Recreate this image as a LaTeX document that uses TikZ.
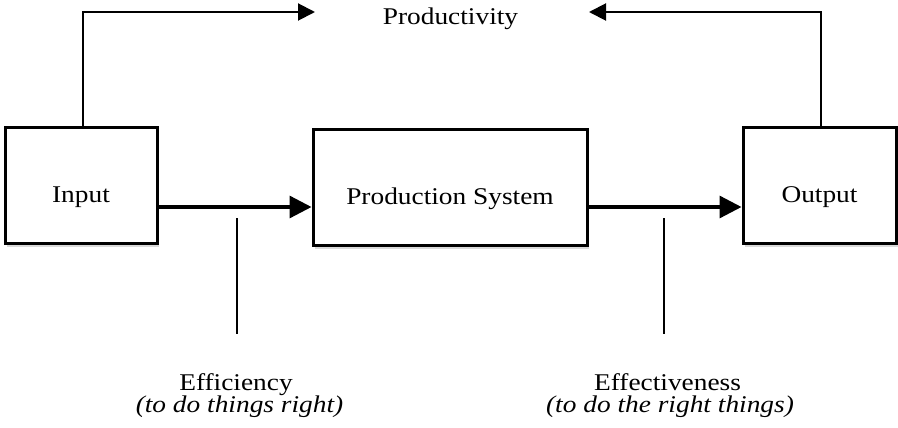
\documentclass[tikz,border=0pt]{standalone}
\usepackage{fontspec}
\setmainfont{Liberation Serif}[FakeStretch=1.14]
\usetikzlibrary{arrows.meta,shadows}
\begin{document}
\begin{tikzpicture}[x=1pt,y=-1pt,
  box/.style={draw=black,line width=3pt,fill=white,inner sep=0pt,
    text height=33pt,text depth=0pt,font=\fontsize{24}{26}\selectfont,
    drop shadow={shadow xshift=2pt,shadow yshift=-4pt,opacity=0.3,fill=gray}},
  thickarrow/.style={line width=3.3pt,-{Triangle[length=22pt,width=22pt]}},
  toparrow/.style={line width=2pt,-{Triangle[length=17pt,width=17pt]}},
  marker/.style={line width=1.3pt},
  lbl/.style={font=\fontsize{24}{26}\selectfont,inner sep=0pt,anchor=base}
]
\useasboundingbox (0,0) rectangle (898,428);
\node[box,minimum width=152pt,minimum height=115pt] (in) at (81,185.5) {Input};
\node[box,minimum width=274pt,minimum height=115pt] (ps) at (450,187.5) {Production System};
\node[box,minimum width=153pt,minimum height=115pt] (out) at (819.5,185.5) {Output};
\node[lbl] (prod) at (450.5,25) {Productivity};
\coordinate (tl) at (83,12);
\coordinate (tr) at (821,12);
\coordinate (pl) at (315,12);
\coordinate (pr) at (589,12);
\draw[toparrow] (in.north -| tl) -- (tl) -- (pl);
\draw[toparrow] (out.north -| tr) -- (tr) -- (pr);
\draw[thickarrow] (in.east |- 0,207) -- (ps.west |- 0,207);
\draw[thickarrow] (ps.east |- 0,207) -- (out.west |- 0,207);
\node[lbl] (eff) at (236,390) {Efficiency};
\node[lbl] (effi) at (239.5,412) {\itshape (to do things right)};
\node[lbl] (efv) at (667.5,390) {Effectiveness};
\node[lbl] (efvi) at (670,412) {\itshape (to do the right things)};
\coordinate (e1) at (237,218);
\coordinate (e2) at (664,218);
\draw[marker] (e1) -- (e1 |- 0,334);
\draw[marker] (e2) -- (e2 |- 0,334);
\end{tikzpicture}
\end{document}
